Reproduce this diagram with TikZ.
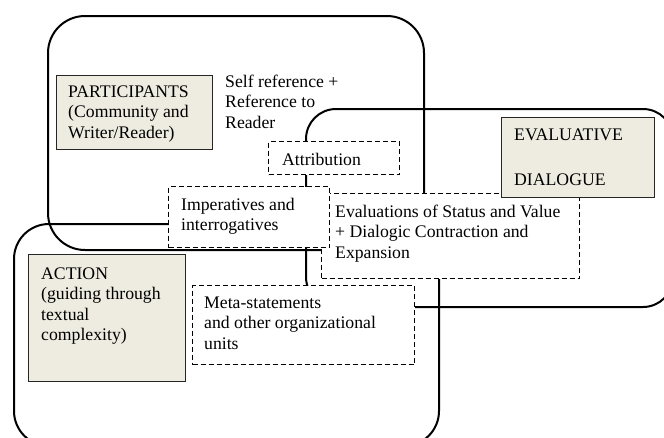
\documentclass[tikz,border=0pt]{standalone}
\usepackage{fontspec}
\setmainfont{Liberation Serif}
\definecolor{beige}{HTML}{EEECE1}
\newcommand\tstrut{\rule{0pt}{15pt}}
\begin{document}
\begin{tikzpicture}[x=1pt,y=-1pt,
  area/.style={draw=black, line width=2pt, inner sep=0pt, anchor=north west},
  dbox/.style={draw=black, fill=white, line width=1pt, dash pattern=on 5pt off 3pt, inner sep=0pt, anchor=north west},
  lbox/.style={draw=black!85, fill=beige, line width=1.3pt, inner sep=0pt, anchor=north west},
  txt/.style={inner sep=0pt, anchor=north west, align=left, font=\fontsize{17.7}{20.5}\selectfont}]
\useasboundingbox (0,0) rectangle (664,437);
% large overlapping areas
\node[area, rounded corners=37, minimum width=376, minimum height=234] (partarea) at (47,15) {};
\node[area, rounded corners=30, minimum width=367, minimum height=198] (evalarea) at (305,108) {};
\node[area, rounded corners=35, minimum width=425, minimum height=222] (actarea) at (13,223) {};
% dashed boxes
\node[dbox, minimum width=131, minimum height=33] (attr) at (268,141) {};
\node[dbox, minimum width=258, minimum height=85] (evals) at (321,193) {};
\node[dbox, minimum width=161, minimum height=61] (imper) at (168,186) {};
\node[dbox, minimum width=222, minimum height=79] (meta) at (192,285) {};
% label boxes
\node[lbox, minimum width=156, minimum height=74] (partbox) at (56,75) {};
\node[lbox, minimum width=153, minimum height=80] (evalbox) at (501,117) {};
\node[lbox, minimum width=157, minimum height=127] (actbox) at (28,254) {};
% texts
\node[txt] (selfref) at (225,72) {\tstrut Self reference +\\Reference to\\Reader};
\node[txt] (parttxt) at (68,82) {\tstrut PARTICIPANTS\\(Community and\\Writer/Reader)};
\node[txt] (attrtxt) at (282,150) {\tstrut Attribution};
\node[txt] (impertxt) at (181,195) {\tstrut Imperatives and\\interrogatives};
\node[txt] (evalstxt) at (335,202) {\tstrut Evaluations of Status and Value\\+ Dialogic Contraction and\\Expansion};
\node[txt] (metatxt) at (204,293) {\tstrut Meta-statements\\and other organizational\\units};
\node[txt] (acttxt) at (41,264) {\tstrut ACTION\\(guiding through\\textual\\complexity)};
\node[txt] (evaltxt) at (514,125) {\tstrut EVALUATIVE\\[24.5pt]DIALOGUE};
\end{tikzpicture}
\end{document}
